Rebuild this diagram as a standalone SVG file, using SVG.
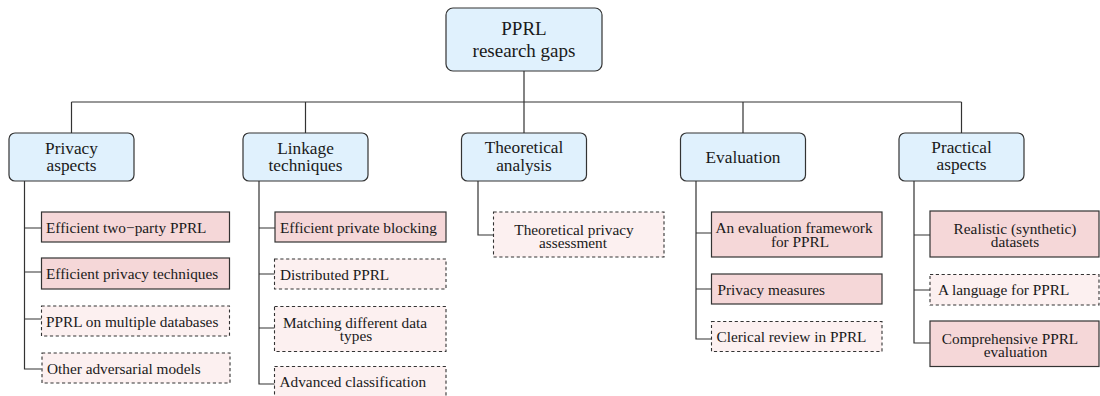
<svg xmlns="http://www.w3.org/2000/svg" width="1100" height="396" viewBox="0 0 1100 396">
<style>
text{font-family:"Liberation Serif","Times New Roman","DejaVu Serif",serif;fill:#1a1a1a}
.root{fill:#e0f1fd;stroke:#333;stroke-width:1.2}
.l1{fill:#e0f1fd;stroke:#333;stroke-width:1.2}
.solid{fill:#f5d7d8;stroke:#333;stroke-width:1.2}
.dash{fill:#fcf0f0;stroke:#333;stroke-width:1.1;stroke-dasharray:3.2 2.6}
.t19{font-size:19px;text-anchor:middle}
.t17{font-size:17.3px;text-anchor:middle}
.t15{font-size:15.3px}
.c{text-anchor:middle}
.ln{fill:none;stroke:#333;stroke-width:1.2}
</style>
<g id="connectors">
<path class="ln" d="M524 71V102M71.5 102H961.5M71.5 102V133M305.5 102V133M524 102V133M743 102V133M961.5 102V133"/>
<path class="ln" d="M24.5 181V369H41.5M24.5 228H41.5M24.5 272H41.5M24.5 319H41.5"/>
<path class="ln" d="M259 181V384H275M259 228H275M259 274H275M259 328H275"/>
<path class="ln" d="M478 181V235H493.5"/>
<path class="ln" d="M696 181V339H711.5M696 233H711.5M696 289H711.5"/>
<path class="ln" d="M914 181V343H930M914 235H930M914 290H930"/>
</g>
<g id="root">
<rect class="root" x="446" y="8" width="156" height="63" rx="7"/>
<text class="t19"><tspan x="524" y="35">PPRL</tspan><tspan x="524" y="57">research gaps</tspan></text>
</g>
<g id="privacy">
<rect class="l1" x="9" y="133" width="125" height="48" rx="6"/>
<text class="t17"><tspan x="71.5" y="153.5">Privacy</tspan><tspan x="71.5" y="171">aspects</tspan></text>
</g>
<g id="linkage">
<rect class="l1" x="243" y="133" width="125" height="48" rx="6"/>
<text class="t17"><tspan x="305.5" y="153.5">Linkage</tspan><tspan x="305.5" y="171">techniques</tspan></text>
</g>
<g id="theoretical">
<rect class="l1" x="461.5" y="133" width="125" height="48" rx="6"/>
<text class="t17"><tspan x="524" y="153">Theoretical</tspan><tspan x="524" y="170.5">analysis</tspan></text>
</g>
<g id="evaluation">
<rect class="l1" x="680.5" y="133" width="125" height="48" rx="6"/>
<text class="t17" x="743" y="162.5">Evaluation</text>
</g>
<g id="practical">
<rect class="l1" x="899" y="133" width="125" height="48" rx="6"/>
<text class="t17"><tspan x="961.5" y="152.7">Practical</tspan><tspan x="961.5" y="170">aspects</tspan></text>
</g>
<g id="p1"><rect class="solid" x="41.5" y="212" width="188" height="30"/><text class="t15" x="46" y="232.5">Efficient two−party PPRL</text></g>
<g id="p2"><rect class="solid" x="41.5" y="258" width="188" height="31"/><text class="t15" x="46" y="279">Efficient privacy techniques</text></g>
<g id="p3"><rect class="dash" x="41.5" y="306" width="188" height="30"/><text class="t15" x="46" y="326.5">PPRL on multiple databases</text></g>
<g id="p4"><rect class="dash" x="42" y="353" width="188" height="30"/><text class="t15" x="47" y="373.5">Other adversarial models</text></g>
<g id="l1c"><rect class="solid" x="275" y="212" width="171" height="30"/><text class="t15" x="280" y="232.5">Efficient private blocking</text></g>
<g id="l2c"><rect class="dash" x="274.5" y="259" width="171.5" height="30"/><text class="t15" x="280" y="279.5">Distributed PPRL</text></g>
<g id="l3c"><rect class="dash" x="274.5" y="306.5" width="171.5" height="45"/><text class="t15 c"><tspan x="355" y="328">Matching different data</tspan><tspan x="356" y="341">types</tspan></text></g>
<g id="l4c"><rect class="dash" x="274.5" y="366.5" width="171.5" height="31"/><text class="t15" x="279.5" y="387">Advanced classification</text></g>
<g id="t1c"><rect class="dash" x="493.5" y="212" width="170.5" height="45"/><text class="t15 c"><tspan x="574" y="234.5">Theoretical privacy</tspan><tspan x="573" y="248">assessment</tspan></text></g>
<g id="e1c"><rect class="solid" x="711.5" y="212" width="170.5" height="45"/><text class="t15 c"><tspan x="794" y="232.5">An evaluation framework</tspan><tspan x="800" y="247">for PPRL</tspan></text></g>
<g id="e2c"><rect class="solid" x="711.5" y="274" width="170.5" height="30"/><text class="t15" x="717.5" y="294.5">Privacy measures</text></g>
<g id="e3c"><rect class="dash" x="711.5" y="321.5" width="170.5" height="30"/><text class="t15" x="716.5" y="342">Clerical review in PPRL</text></g>
<g id="r1c"><rect class="solid" x="930" y="211" width="169" height="46"/><text class="t15 c"><tspan x="1015" y="234">Realistic (synthetic)</tspan><tspan x="1015" y="246.5">datasets</tspan></text></g>
<g id="r2c"><rect class="dash" x="930" y="274.5" width="169" height="30.5"/><text class="t15" x="938" y="295">A language for PPRL</text></g>
<g id="r3c"><rect class="solid" x="930" y="321" width="169" height="45.5"/><text class="t15 c"><tspan x="1010" y="344">Comprehensive PPRL</tspan><tspan x="1015.5" y="356.5">evaluation</tspan></text></g>
</svg>
